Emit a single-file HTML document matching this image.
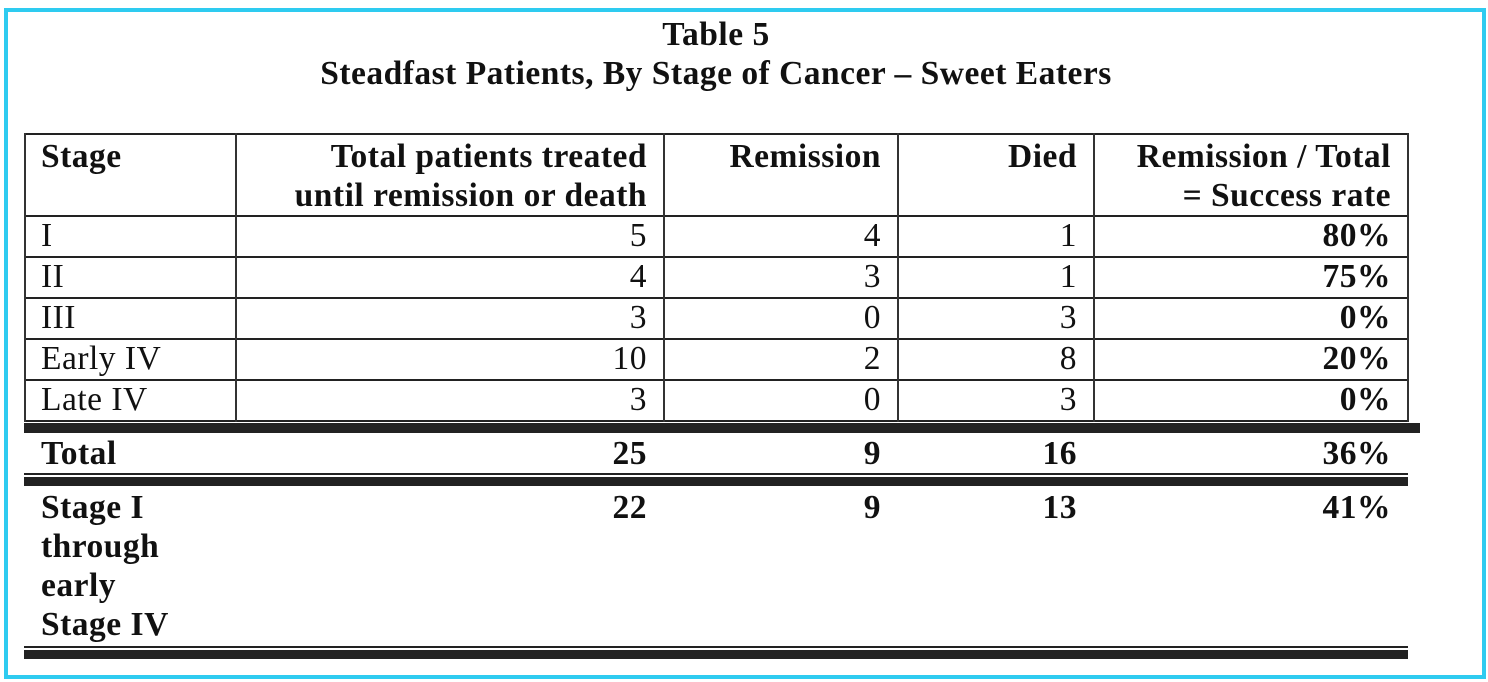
<!DOCTYPE html>
<html><head><meta charset="utf-8"><style>
body{margin:0;width:1488px;height:682px;background:#fff;position:relative;overflow:hidden;font-family:"Liberation Serif","Times New Roman",serif;color:#111}
.frame{position:absolute;left:4px;top:8px;width:1474px;height:663px;border:4px solid #2ecbf0;}
.t{position:absolute;font-size:33.5px;letter-spacing:0.5px;line-height:40px;white-space:nowrap}
.b{font-weight:bold}
.hl{position:absolute;background:#222}
.vl{position:absolute;width:2px;background:#333}
</style></head><body>
<div class="frame"></div>
<div class="t b" style="left:0;width:1432px;top:15px;text-align:center">Table 5</div>
<div class="t b" style="left:0;width:1432px;top:54px;text-align:center">Steadfast Patients, By Stage of Cancer – Sweet Eaters</div>
<div id="tbl"></div>
<script>
const stages=["I","II","III","Early IV","Late IV"];
const totals=["5","4","3","10","3"];
const remission=["4","3","0","2","0"];
const died=["1","1","3","8","3"];
const rates=["80%","75%","0%","20%","0%"];
const tbl=document.getElementById('tbl');
const cols=[24,235,663,897,1093,1407];
function line(cls,x,y,w,h,name){const d=document.createElement('div');d.className=cls;d.style.cssText=`left:${x}px;top:${y}px;width:${w}px;height:${h}px`;


tbl.appendChild(d);}
function txt(s,col,y,bold,name){const d=document.createElement('div');d.className='t'+(bold?' b':'');
if(col===0){d.style.left=(cols[0]+17)+'px';}else{d.style.left=cols[col]+'px';d.style.width=(cols[col+1]-cols[col]-16)+'px';d.style.textAlign='right';}
d.style.top=y+'px';d.textContent=s;


tbl.appendChild(d);}
line('hl',24,133,1384,2,'header-top-border');
const rowTop=[215,256,297,338,379];
rowTop.forEach((y,i)=>line('hl',24,y,1384,2,'row-border'));
line('hl',24,420,1384,2,'body-bottom-border');
line('hl',24,423,1396,10,'total-top-thick-line');
line('hl',24,473,1384,2,'total-bottom-thin-line');
line('hl',24,477,1384,9,'total-bottom-thick-line');
line('hl',24,646,1384,2,'table-bottom-thin-line');
line('hl',24,650,1384,9,'table-bottom-thick-line');
cols.forEach(x=>line('vl',x,133,2,289,'column-border'));
txt('Stage',0,137,true,'header-stage');
txt('Total patients treated',1,137,true,'header-total');
txt('until remission or death',1,176,true,'header-total-line2');
txt('Remission',2,137,true,'header-remission');
txt('Died',3,137,true,'header-died');
txt('Remission / Total',4,137,true,'header-rate');
txt('= Success rate',4,176,true,'header-rate-line2');
stages.forEach((s,i)=>{const y=rowTop[i]+1;
txt(s,0,y,false,'stage-cell');
txt(totals[i],1,y,false,'total-cell');
txt(remission[i],2,y,false,'remission-cell');
txt(died[i],3,y,false,'died-cell');
txt(rates[i],4,y,true,'rate-cell');});
txt('Total',0,434,true,'total-label');
txt('25',1,434,true,'total-patients');
txt('9',2,434,true,'total-remission');
txt('16',3,434,true,'total-died');
txt('36%',4,434,true,'total-rate');
['Stage I','through','early','Stage IV'].forEach((s,i)=>txt(s,0,488+i*39,true,'subtotal-label'));
txt('22',1,488,true,'subtotal-patients');
txt('9',2,488,true,'subtotal-remission');
txt('13',3,488,true,'subtotal-died');
txt('41%',4,488,true,'subtotal-rate');
</script>
</body></html>
